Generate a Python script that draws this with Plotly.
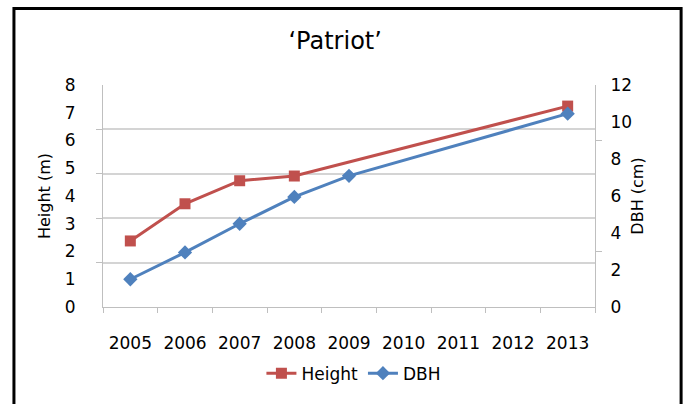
import plotly.graph_objects as go

years = ["2005", "2006", "2007", "2008", "2009", "2010", "2011", "2012", "2013"]

height_years = ["2005", "2006", "2007", "2008", "2013"]
height_m = [2.38, 3.72, 4.55, 4.72, 7.24]

dbh_years = ["2005", "2006", "2007", "2008", "2009", "2013"]
dbh_cm = [1.5, 2.95, 4.5, 5.95, 7.09, 10.45]

red = "#C0504D"
blue = "#4F81BD"
grid = "#D4D4D4"
axis_grey = "#BFBFBF"
font_family = "DejaVu Sans"

fig = go.Figure()
fig.add_trace(
    go.Scatter(
        x=height_years,
        y=height_m,
        name="Height",
        mode="lines+markers",
        line=dict(color=red, width=3),
        marker=dict(symbol="square", size=11, color=red),
    )
)
fig.add_trace(
    go.Scatter(
        x=dbh_years,
        y=dbh_cm,
        name="DBH",
        yaxis="y2",
        mode="lines+markers",
        line=dict(color=blue, width=3),
        marker=dict(symbol="diamond", size=11, color=blue),
    )
)

fig.update_layout(
    width=684,
    height=404,
    margin=dict(l=103, r=89, t=85, b=87),
    paper_bgcolor="white",
    plot_bgcolor="white",
    font=dict(family=font_family, size=17, color="black"),
    title=dict(
        text="\u2018Patriot\u2019",
        x=0.49,
        xanchor="center",
        y=0.9,
        yanchor="middle",
        font=dict(size=24),
        automargin=False,
    ),
    xaxis=dict(
        type="category",
        categoryorder="array",
        categoryarray=years,
        range=[-0.5, 8.5],
        tickson="boundaries",
        ticks="outside",
        ticklen=5,
        tickcolor=axis_grey,
        showline=True,
        linecolor=axis_grey,
        showgrid=False,
        ticklabelstandoff=21,
        automargin=False,
    ),
    yaxis=dict(
        title=dict(text="Height (m)", standoff=10, font=dict(size=16)),
        range=[0, 8],
        dtick=1,
        showgrid=False,
        ticks="",
        showline=True,
        linecolor=axis_grey,
        zeroline=False,
        ticklabelstandoff=23,
        automargin=False,
        minor=dict(
            tickmode="linear",
            tick0=0,
            dtick=1.6,
            showgrid=True,
            gridcolor=grid,
            gridwidth=1.5,
            ticks="outside",
            ticklen=6,
            tickcolor=axis_grey,
        ),
    ),
    yaxis2=dict(
        title=dict(text="DBH (cm)", standoff=0, font=dict(size=16)),
        overlaying="y",
        side="right",
        range=[0, 12],
        dtick=2,
        showgrid=False,
        ticks="",
        showline=True,
        linecolor=axis_grey,
        zeroline=False,
        ticklabelstandoff=11,
        automargin=False,
        minor=dict(
            tickmode="linear",
            tick0=0,
            dtick=3,
            ticks="outside",
            ticklen=6,
            tickcolor=axis_grey,
            showgrid=False,
        ),
    ),
    legend=dict(
        orientation="h",
        x=0.51,
        xanchor="center",
        y=-0.3,
        yanchor="middle",
        font=dict(size=17),
        itemwidth=30,
        tracegroupgap=0,
    ),
    shapes=[
        dict(
            type="rect",
            xref="paper",
            yref="paper",
            x0=-0.181,
            x1=1.175,
            y0=-0.45,
            y1=1.345,
            line=dict(color="black", width=3),
            layer="above",
        )
    ],
)

# drop the browser's default body margin so the 684x404 figure fills the window
fig.write_html(
    "out.html",
    config={"displayModeBar": False},
    post_script="document.body.style.margin = '0';",
)
